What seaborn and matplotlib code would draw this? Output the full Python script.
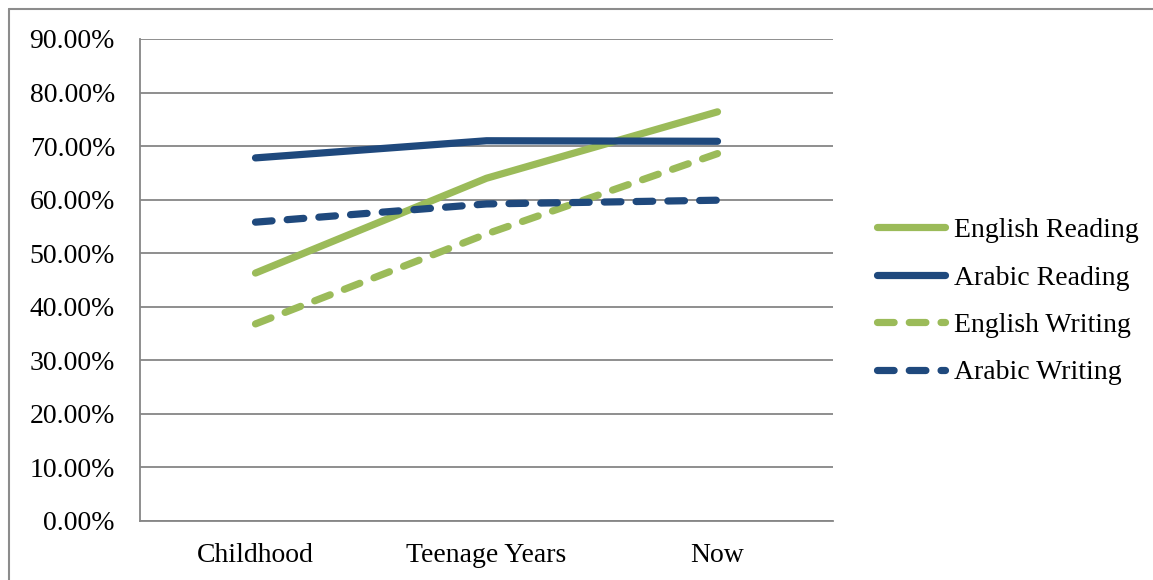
import matplotlib
matplotlib.use("Agg")
import matplotlib.pyplot as plt
from matplotlib.lines import Line2D
from matplotlib.ticker import PercentFormatter, MultipleLocator
import seaborn as sns
import pandas as pd

# Share of respondents (%) at each life stage
stages = ["Childhood", "Teenage Years", "Now"]
english_reading = [46.3, 64.0, 76.4]
arabic_reading = [67.8, 71.0, 70.9]
english_writing = [36.8, 53.6, 68.6]
arabic_writing = [55.8, 59.2, 59.9]

series_names = ["English Reading", "Arabic Reading", "English Writing", "Arabic Writing"]
series_values = [english_reading, arabic_reading, english_writing, arabic_writing]

GREEN = "#9BBB59"
NAVY = "#1F497D"
GRID = "#868686"
colors = {"English Reading": GREEN, "Arabic Reading": NAVY,
          "English Writing": GREEN, "Arabic Writing": NAVY}
dash_map = {"English Reading": "", "Arabic Reading": "",
            "English Writing": (2.3, 2.1), "Arabic Writing": (2.3, 2.1)}

rows = []
for name, vals in zip(series_names, series_values):
    for i, v in enumerate(vals):
        rows.append({"stage": i, "value": v, "series": name})
df = pd.DataFrame(rows)

sns.set_theme(style="white")
plt.rcParams["font.family"] = ["Liberation Serif", "DejaVu Serif"]
plt.rcParams["text.color"] = "black"

fig = plt.figure(figsize=(11.53, 5.80), dpi=100)
ax = fig.add_axes([140 / 1153, 1 - 521 / 580, (833 - 140) / 1153, (521 - 39) / 580])

sns.lineplot(data=df, x="stage", y="value", hue="series", style="series",
             palette=colors, dashes=dash_map, hue_order=series_names,
             style_order=series_names, linewidth=5.2, sort=False, ax=ax,
             legend=False, solid_capstyle="round", dash_capstyle="round")

ax.set_xlim(-0.5, 2.5)
ax.set_ylim(0, 90)
ax.yaxis.set_major_locator(MultipleLocator(10))
ax.yaxis.set_major_formatter(PercentFormatter(decimals=2))
ax.set_xticks(range(len(stages)))
ax.set_xticklabels(stages)
ax.set_xlabel("")
ax.set_ylabel("")
ax.tick_params(axis="both", length=0, labelsize=20, colors="black")
ax.tick_params(axis="y", pad=18)
ax.tick_params(axis="x", pad=16)

ax.grid(axis="y", color=GRID, linewidth=1.3)
ax.grid(axis="x", visible=False)
ax.set_axisbelow(True)
for side in ("top", "right"):
    ax.spines[side].set_visible(False)
for side in ("left", "bottom"):
    ax.spines[side].set_color(GRID)
    ax.spines[side].set_linewidth(1.3)

handles = [Line2D([], [], color=colors[n], linewidth=5.2,
                  linestyle=(0, dash_map[n]) if dash_map[n] else "-",
                  solid_capstyle="round", dash_capstyle="round")
           for n in series_names]
fig.legend(handles, series_names, loc="center left",
           bbox_to_anchor=(877 / 1153, 1 - 301.5 / 580), frameon=False,
           fontsize=20, handlelength=2.45, handletextpad=0.31,
           labelspacing=0.79, borderpad=0, borderaxespad=0,
           labelcolor="black")

# Outer chart frame (top and left edges)
frame_kw = dict(color="#8C8C8C", linewidth=1.5, transform=fig.transFigure)
fig.add_artist(Line2D([9 / 1153, 1.0], [1 - 9 / 580, 1 - 9 / 580], **frame_kw))
fig.add_artist(Line2D([9 / 1153, 9 / 1153], [0.0, 1 - 9 / 580], **frame_kw))

fig.savefig("out.png", dpi=100, facecolor="white")
